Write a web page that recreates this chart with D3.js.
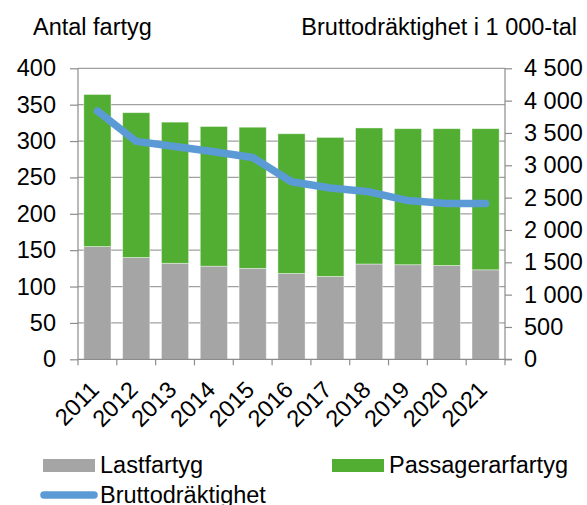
<!DOCTYPE html>
<html>
<head>
<meta charset="utf-8">
<script src="https://cdn.jsdelivr.net/npm/d3@7"></script>
<style>
  html, body { margin: 0; padding: 0; background: #fff; }
  svg { display: block; font-family: "Liberation Sans", Arial, sans-serif; }
</style>
</head>
<body>
<svg id="chart" width="587" height="505"></svg>
<script>
// ---- data ----
const years = ["2011","2012","2013","2014","2015","2016","2017","2018","2019","2020","2021"];
const lastfartyg = [155, 140, 132, 128, 125, 118, 114, 131, 130, 129, 123];
const passagerarfartyg = [209, 199, 194, 192, 194, 192, 191, 187, 187, 188, 194];
const bruttodraktighet = [3840, 3370, 3290, 3210, 3120, 2745, 2650, 2590, 2455, 2410, 2410];
const leftTicks = [0, 50, 100, 150, 200, 250, 300, 350, 400];
const rightTicks = [0, 500, 1000, 1500, 2000, 2500, 3000, 3500, 4000, 4500];
const seriesNames = ["Lastfartyg", "Passagerarfartyg", "Bruttodräktighet"];
const leftTitle = "Antal fartyg";
const rightTitle = "Bruttodräktighet i 1 000-tal";

// ---- layout ----
const svg = d3.select("#chart");
const m = { left: 78, right: 505, top: 68.3, bottom: 359.3 };
const fontSize = 23.5;
const colGray = "#A5A5A5", colGreen = "#52AE32", colBlue = "#5B9BD5", colAxis = "#8C8C8C";

const x = d3.scaleBand().domain(years).range([m.left, m.right]).paddingInner(0.3).paddingOuter(0.15);
const yL = d3.scaleLinear().domain([0, 400]).range([m.bottom, m.top]);
const yR = d3.scaleLinear().domain([0, 4500]).range([m.bottom, m.top]);
const fmtSpace = v => d3.format(",")(v).replace(/,/g, "\u00a0");

// gridlines
svg.append("g").selectAll("line").data(leftTicks.filter(d => d > 0)).join("line")
  .attr("x1", m.left).attr("x2", m.right)
  .attr("y1", d => yL(d)).attr("y2", d => yL(d))
  .attr("stroke", "#A0A0A0").attr("stroke-width", 1.2);

// stacked bars
const stackData = years.map((yr, i) => ({ year: yr, Lastfartyg: lastfartyg[i], Passagerarfartyg: passagerarfartyg[i] }));
const stack = d3.stack().keys(["Lastfartyg", "Passagerarfartyg"])(stackData);
const colors = { Lastfartyg: colGray, Passagerarfartyg: colGreen };
svg.append("g").selectAll("g").data(stack).join("g")
  .attr("fill", d => colors[d.key])
  .selectAll("rect").data(d => d).join("rect")
  .attr("x", d => x(d.data.year))
  .attr("width", x.bandwidth())
  .attr("y", d => yL(d[1]))
  .attr("height", d => yL(d[0]) - yL(d[1]))
  .attr("stroke", "#ffffff").attr("stroke-opacity", 0.5).attr("stroke-width", 0.8);

// line
const line = d3.line()
  .x((d, i) => x(years[i]) + x.bandwidth() / 2)
  .y(d => yR(d));
svg.append("path").datum(bruttodraktighet)
  .attr("d", line)
  .attr("fill", "none").attr("stroke", colBlue)
  .attr("stroke-width", 7.5).attr("stroke-linejoin", "round").attr("stroke-linecap", "round");

// left axis
const gL = svg.append("g").attr("transform", `translate(${m.left},0)`)
  .call(d3.axisLeft(yL).tickValues(leftTicks).tickSize(8).tickPadding(14));
// right axis
const gR = svg.append("g").attr("transform", `translate(${m.right},0)`)
  .call(d3.axisRight(yR).tickValues(rightTicks).tickFormat(fmtSpace).tickSize(7).tickPadding(12));
// bottom axis
const xBoundaries = d3.scaleLinear().domain([0, years.length]).range([m.left, m.right]);
const gB = svg.append("g").attr("transform", `translate(0,${m.bottom})`);
gB.append("line").attr("x1", m.left).attr("x2", m.right + 7).attr("y1", 0).attr("y2", 0)
  .attr("stroke", colAxis).attr("stroke-width", 1.2);
gB.selectAll("line.tk").data(d3.range(years.length + 1)).join("line").attr("class", "tk")
  .attr("x1", d => xBoundaries(d)).attr("x2", d => xBoundaries(d))
  .attr("y1", 0).attr("y2", 6).attr("stroke", colAxis).attr("stroke-width", 1.2);
gB.selectAll("text").data(years).join("text")
  .attr("transform", d => `translate(${x(d) + x.bandwidth() / 2 + 3},${32}) rotate(-45)`)
  .attr("text-anchor", "end")
  .attr("font-size", fontSize).attr("fill", "#000")
  .text(d => d);

[gL, gR].forEach(g => {
  g.select(".domain").attr("stroke", colAxis).attr("stroke-width", 1.2);
  g.selectAll(".tick line").attr("stroke", colAxis).attr("stroke-width", 1.2);
  g.selectAll(".tick text").attr("font-size", fontSize).attr("fill", "#000")
    .attr("font-family", "Liberation Sans, Arial, sans-serif");
});
gL.select(".domain").attr("d", `M0,${m.bottom}V${m.top}`);
gR.select(".domain").attr("d", `M0,${m.bottom}V${m.top}`);

// titles
svg.append("text").attr("x", 33).attr("y", 35).attr("font-size", fontSize).text(leftTitle);
svg.append("text").attr("x", 577).attr("y", 35).attr("text-anchor", "end").attr("font-size", fontSize).text(rightTitle);

// legend
const lg = svg.append("g").attr("font-size", fontSize);
lg.append("rect").attr("x", 43).attr("y", 459).attr("width", 52).attr("height", 13).attr("fill", colGray);
lg.append("text").attr("x", 100).attr("y", 473).text(seriesNames[0]);
lg.append("rect").attr("x", 332).attr("y", 459).attr("width", 52).attr("height", 13).attr("fill", colGreen);
lg.append("text").attr("x", 389).attr("y", 473).text(seriesNames[1]);
lg.append("line").attr("x1", 44).attr("x2", 94).attr("y1", 495).attr("y2", 495)
  .attr("stroke", colBlue).attr("stroke-width", 7.5).attr("stroke-linecap", "round");
lg.append("text").attr("x", 100).attr("y", 503).text(seriesNames[2]);
</script>
</body>
</html>
